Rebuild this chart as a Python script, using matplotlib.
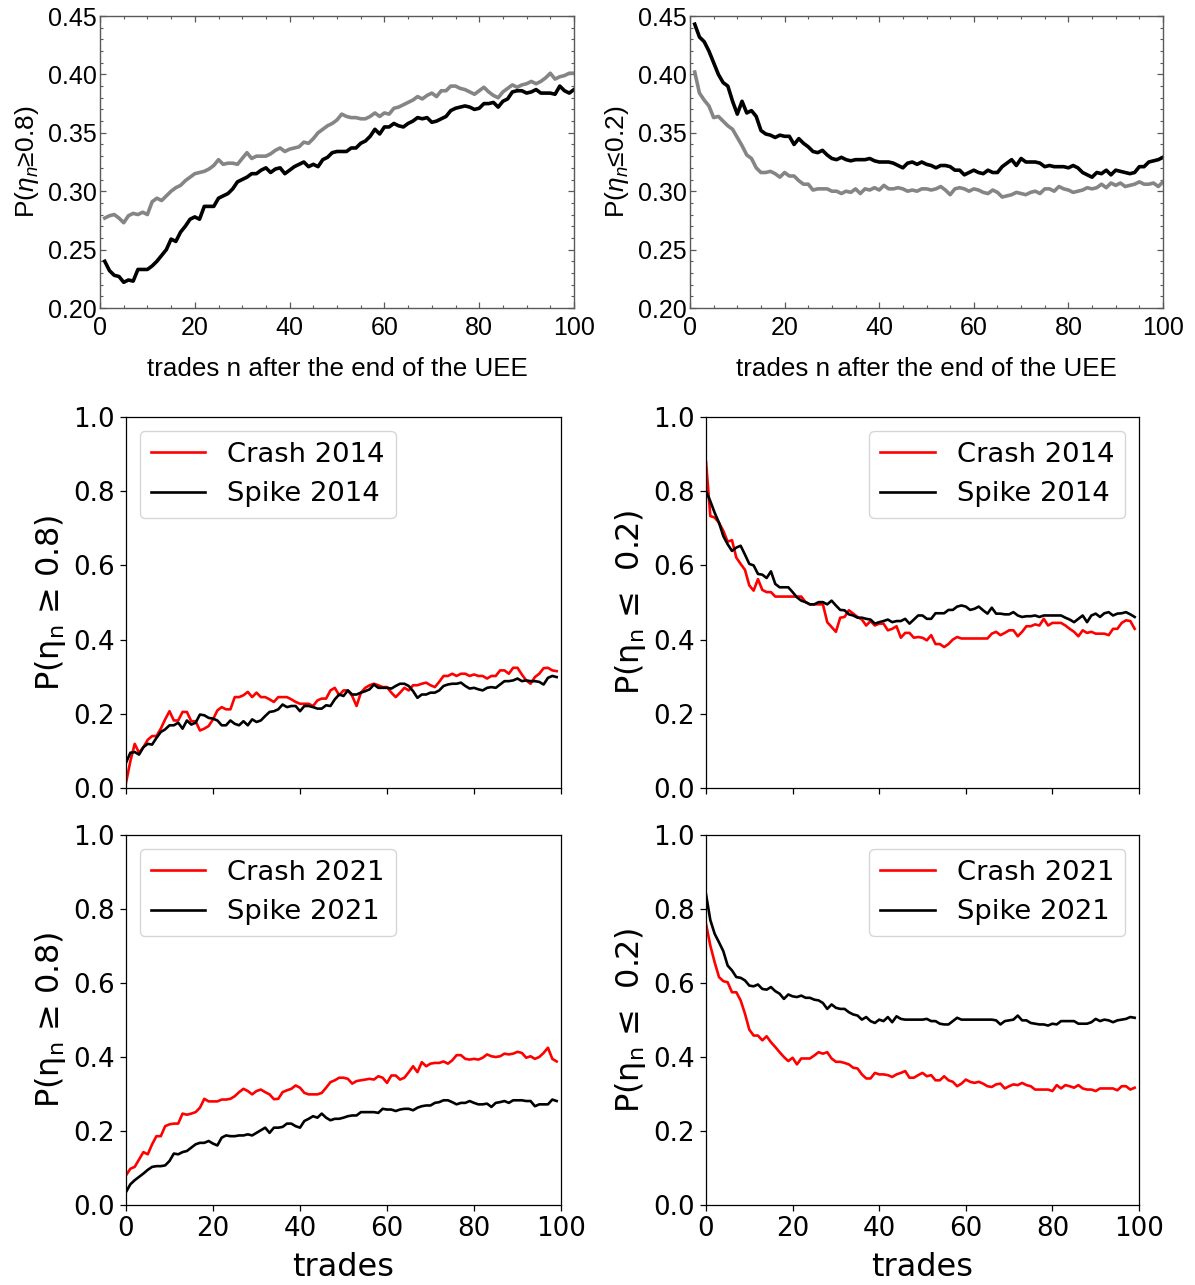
import numpy as np
import matplotlib
matplotlib.use("Agg")
import matplotlib.pyplot as plt
from matplotlib.ticker import MultipleLocator, FormatStrFormatter

plt.rcParams['mathtext.fontset'] = 'custom'
plt.rcParams['mathtext.it'] = 'Liberation Sans:italic'
plt.rcParams['mathtext.rm'] = 'Liberation Sans'

# ---------------- data ----------------
x_top = np.arange(1, 101)
x_bot = np.arange(0, 100)

tl_gray = [0.277,0.279,0.280,0.277,0.273,0.279,0.281,0.280,0.282,0.280,
0.291,0.294,0.292,0.296,0.300,0.303,0.305,0.309,0.312,0.315,
0.316,0.317,0.319,0.322,0.327,0.323,0.324,0.324,0.323,0.328,
0.333,0.328,0.330,0.330,0.330,0.332,0.335,0.337,0.334,0.336,
0.337,0.338,0.342,0.341,0.345,0.350,0.353,0.356,0.358,0.361,
0.366,0.364,0.363,0.363,0.362,0.362,0.364,0.367,0.364,0.367,
0.366,0.371,0.372,0.374,0.376,0.378,0.381,0.379,0.382,0.384,
0.381,0.386,0.386,0.390,0.390,0.388,0.387,0.385,0.383,0.386,
0.389,0.385,0.382,0.380,0.385,0.388,0.391,0.389,0.391,0.392,
0.394,0.392,0.394,0.397,0.401,0.396,0.398,0.399,0.401,0.401]

tl_black = [0.240,0.232,0.228,0.227,0.222,0.224,0.223,0.233,0.233,0.233,
0.236,0.240,0.245,0.250,0.259,0.257,0.265,0.270,0.276,0.278,
0.276,0.287,0.287,0.287,0.294,0.296,0.298,0.302,0.308,0.310,
0.312,0.315,0.315,0.318,0.320,0.316,0.319,0.320,0.315,0.318,
0.321,0.323,0.325,0.321,0.323,0.321,0.327,0.329,0.333,0.334,
0.334,0.334,0.337,0.337,0.341,0.343,0.347,0.353,0.349,0.355,
0.355,0.358,0.356,0.355,0.358,0.360,0.363,0.362,0.363,0.359,
0.360,0.362,0.364,0.369,0.371,0.372,0.373,0.372,0.370,0.371,
0.375,0.375,0.376,0.372,0.377,0.379,0.385,0.386,0.386,0.384,
0.385,0.387,0.384,0.384,0.384,0.383,0.390,0.386,0.384,0.387]

tr_black = [0.443,0.432,0.428,0.420,0.410,0.400,0.393,0.390,0.377,0.366,
0.377,0.367,0.369,0.364,0.352,0.349,0.348,0.346,0.348,0.347,
0.347,0.340,0.345,0.341,0.338,0.334,0.333,0.335,0.331,0.328,
0.327,0.329,0.327,0.326,0.327,0.327,0.327,0.328,0.326,0.325,
0.325,0.325,0.324,0.322,0.320,0.324,0.325,0.323,0.325,0.323,
0.322,0.320,0.322,0.322,0.321,0.318,0.318,0.314,0.316,0.318,
0.316,0.315,0.318,0.316,0.316,0.321,0.324,0.327,0.322,0.328,
0.325,0.325,0.325,0.324,0.321,0.322,0.321,0.321,0.321,0.320,
0.322,0.320,0.316,0.314,0.312,0.316,0.315,0.318,0.314,0.318,
0.317,0.316,0.315,0.316,0.321,0.321,0.325,0.326,0.327,0.329]

tr_gray = [0.402,0.384,0.378,0.373,0.363,0.364,0.360,0.356,0.353,0.346,
0.339,0.331,0.328,0.320,0.316,0.316,0.317,0.315,0.312,0.316,
0.313,0.313,0.309,0.306,0.306,0.301,0.302,0.302,0.302,0.300,
0.300,0.298,0.300,0.299,0.302,0.298,0.302,0.301,0.303,0.301,
0.305,0.302,0.302,0.303,0.302,0.300,0.301,0.300,0.302,0.302,
0.301,0.302,0.304,0.301,0.297,0.302,0.303,0.302,0.300,0.302,
0.301,0.299,0.298,0.301,0.299,0.295,0.296,0.297,0.299,0.298,
0.297,0.299,0.300,0.298,0.302,0.302,0.300,0.304,0.302,0.301,
0.299,0.300,0.301,0.303,0.302,0.303,0.306,0.303,0.307,0.305,
0.307,0.304,0.305,0.306,0.308,0.306,0.306,0.307,0.304,0.308]

crash14_hi = [0.014,0.072,0.119,0.095,0.110,0.130,0.140,0.140,0.160,0.185,
0.207,0.182,0.182,0.205,0.205,0.180,0.180,0.155,0.160,0.167,
0.185,0.209,0.218,0.212,0.212,0.245,0.245,0.250,0.259,0.245,
0.257,0.245,0.245,0.239,0.232,0.245,0.245,0.245,0.239,0.232,
0.227,0.227,0.227,0.221,0.236,0.241,0.241,0.263,0.270,0.250,
0.263,0.263,0.248,0.221,0.257,0.270,0.277,0.281,0.277,0.272,
0.272,0.257,0.245,0.257,0.270,0.263,0.277,0.277,0.281,0.284,
0.277,0.272,0.286,0.302,0.302,0.308,0.302,0.308,0.308,0.302,
0.306,0.302,0.302,0.295,0.302,0.302,0.317,0.317,0.308,0.324,
0.324,0.306,0.290,0.281,0.299,0.308,0.323,0.324,0.317,0.315]

spike14_hi = [0.068,0.095,0.097,0.090,0.110,0.119,0.117,0.135,0.151,0.158,
0.169,0.169,0.176,0.160,0.182,0.171,0.176,0.198,0.196,0.189,
0.187,0.182,0.169,0.169,0.182,0.173,0.169,0.180,0.169,0.185,
0.178,0.182,0.194,0.205,0.207,0.212,0.225,0.218,0.221,0.221,
0.207,0.221,0.221,0.218,0.214,0.214,0.223,0.221,0.239,0.252,
0.248,0.263,0.252,0.252,0.257,0.261,0.266,0.279,0.270,0.270,
0.270,0.268,0.275,0.281,0.281,0.275,0.261,0.243,0.252,0.252,
0.257,0.257,0.263,0.275,0.279,0.281,0.281,0.284,0.275,0.268,
0.270,0.266,0.263,0.270,0.272,0.270,0.279,0.288,0.288,0.290,
0.295,0.288,0.290,0.288,0.288,0.286,0.279,0.297,0.302,0.299]

crash14_lo = [0.880,0.733,0.729,0.715,0.693,0.664,0.668,0.621,0.604,0.588,
0.546,0.532,0.563,0.534,0.528,0.528,0.516,0.516,0.516,0.516,
0.516,0.516,0.516,0.501,0.495,0.495,0.495,0.495,0.447,0.434,
0.421,0.459,0.461,0.479,0.470,0.461,0.454,0.438,0.450,0.438,
0.443,0.443,0.425,0.429,0.436,0.405,0.418,0.418,0.405,0.407,
0.405,0.398,0.412,0.388,0.388,0.380,0.388,0.400,0.407,0.403,
0.403,0.403,0.403,0.403,0.403,0.403,0.416,0.421,0.412,0.418,
0.425,0.425,0.409,0.421,0.436,0.436,0.441,0.438,0.456,0.438,
0.445,0.445,0.445,0.438,0.429,0.421,0.409,0.425,0.418,0.421,
0.416,0.416,0.416,0.412,0.429,0.429,0.445,0.452,0.450,0.429]

spike14_lo = [0.800,0.773,0.742,0.715,0.679,0.657,0.639,0.648,0.653,0.629,
0.604,0.600,0.577,0.575,0.566,0.584,0.550,0.541,0.541,0.541,
0.528,0.514,0.505,0.501,0.495,0.495,0.501,0.501,0.495,0.505,
0.492,0.480,0.479,0.468,0.465,0.459,0.459,0.456,0.454,0.443,
0.447,0.450,0.454,0.447,0.450,0.450,0.456,0.443,0.454,0.465,
0.465,0.456,0.456,0.471,0.471,0.471,0.480,0.480,0.489,0.492,
0.489,0.480,0.483,0.489,0.479,0.470,0.486,0.470,0.470,0.468,
0.468,0.474,0.465,0.461,0.463,0.463,0.465,0.461,0.465,0.465,
0.465,0.465,0.465,0.459,0.454,0.447,0.456,0.465,0.447,0.465,
0.470,0.461,0.471,0.474,0.465,0.470,0.471,0.474,0.468,0.461]

crash21_hi = [0.080,0.098,0.103,0.123,0.143,0.137,0.164,0.186,0.186,0.213,
0.218,0.220,0.220,0.247,0.244,0.247,0.251,0.263,0.287,0.280,
0.280,0.280,0.285,0.285,0.287,0.294,0.305,0.314,0.308,0.299,
0.308,0.312,0.305,0.299,0.286,0.287,0.305,0.310,0.314,0.323,
0.317,0.303,0.299,0.299,0.299,0.303,0.317,0.332,0.337,0.344,
0.344,0.341,0.328,0.335,0.337,0.339,0.341,0.339,0.348,0.344,
0.330,0.350,0.350,0.339,0.344,0.359,0.375,0.359,0.386,0.375,
0.382,0.384,0.384,0.388,0.382,0.391,0.405,0.405,0.395,0.393,
0.395,0.393,0.398,0.407,0.402,0.400,0.402,0.409,0.407,0.409,
0.414,0.411,0.398,0.402,0.395,0.400,0.411,0.425,0.395,0.388]

spike21_hi = [0.035,0.056,0.067,0.076,0.085,0.095,0.103,0.105,0.105,0.107,
0.119,0.139,0.137,0.143,0.146,0.155,0.164,0.168,0.168,0.173,
0.166,0.161,0.182,0.188,0.186,0.186,0.188,0.188,0.191,0.188,
0.195,0.202,0.209,0.195,0.209,0.209,0.211,0.220,0.220,0.213,
0.209,0.227,0.233,0.240,0.236,0.247,0.236,0.229,0.233,0.233,
0.236,0.240,0.242,0.242,0.251,0.251,0.251,0.251,0.249,0.260,
0.258,0.258,0.254,0.258,0.260,0.260,0.256,0.263,0.267,0.269,
0.269,0.276,0.278,0.283,0.283,0.278,0.272,0.276,0.276,0.281,
0.276,0.272,0.272,0.274,0.265,0.276,0.278,0.281,0.276,0.283,
0.283,0.283,0.281,0.281,0.267,0.272,0.272,0.272,0.285,0.281]

crash21_lo = [0.760,0.701,0.656,0.616,0.605,0.602,0.575,0.575,0.553,0.517,
0.474,0.458,0.458,0.445,0.456,0.440,0.427,0.413,0.400,0.389,
0.398,0.380,0.396,0.396,0.396,0.404,0.413,0.409,0.413,0.396,
0.387,0.387,0.384,0.380,0.371,0.369,0.353,0.342,0.342,0.357,
0.353,0.353,0.351,0.346,0.353,0.357,0.362,0.344,0.344,0.351,
0.357,0.348,0.351,0.337,0.337,0.348,0.337,0.333,0.321,0.328,
0.339,0.333,0.330,0.333,0.328,0.321,0.319,0.326,0.328,0.315,
0.321,0.326,0.324,0.330,0.324,0.321,0.312,0.312,0.312,0.312,
0.308,0.324,0.315,0.324,0.321,0.317,0.324,0.315,0.312,0.312,
0.308,0.315,0.315,0.315,0.315,0.310,0.321,0.321,0.312,0.317]

spike21_lo = [0.840,0.770,0.733,0.710,0.686,0.647,0.634,0.616,0.614,0.607,
0.593,0.591,0.596,0.584,0.582,0.589,0.578,0.571,0.557,0.569,
0.564,0.562,0.566,0.560,0.560,0.555,0.553,0.546,0.530,0.542,
0.533,0.530,0.530,0.521,0.515,0.512,0.501,0.508,0.497,0.492,
0.501,0.497,0.508,0.494,0.510,0.503,0.501,0.501,0.501,0.501,
0.501,0.503,0.497,0.497,0.490,0.488,0.488,0.497,0.506,0.501,
0.501,0.501,0.501,0.501,0.501,0.501,0.501,0.499,0.488,0.497,
0.499,0.501,0.512,0.499,0.499,0.492,0.490,0.488,0.488,0.485,
0.490,0.488,0.497,0.497,0.497,0.497,0.490,0.490,0.490,0.494,
0.503,0.497,0.501,0.499,0.494,0.499,0.501,0.503,0.508,0.506]

top_xlabel = "trades n after the end of the UEE"
top_ylabels = ["P($\\eta_n$≥0.8)", "P($\\eta_n$≤0.2)"]
bot_ylabels = ["P(η$_\\mathregular{n}$ ≥ 0.8)", "P(η$_\\mathregular{n}$ ≤  0.2)"]

# ---------------- figure ----------------
W, H = 1195, 1285
fig = plt.figure(figsize=(W / 100, H / 100), dpi=100)

def rect(l, r, t, b):
    return [l / W, 1 - b / H, (r - l) / W, (b - t) / H]

ARIAL = 'Liberation Sans'
SPINE = '#5a5a5a'

def style_top(ax, ylabel):
    ax.set_xlim(0, 100)
    ax.set_ylim(0.20, 0.45)
    ax.xaxis.set_major_locator(MultipleLocator(20))
    ax.xaxis.set_minor_locator(MultipleLocator(5))
    ax.yaxis.set_major_locator(MultipleLocator(0.05))
    ax.yaxis.set_minor_locator(MultipleLocator(0.01))
    ax.yaxis.set_major_formatter(FormatStrFormatter('%.2f'))
    for s in ax.spines.values():
        s.set_color(SPINE)
        s.set_linewidth(1.0)
    ax.tick_params(which='both', direction='in', top=True, right=True,
                   color=SPINE, labelcolor='black')
    ax.tick_params(which='major', length=4, width=0.9, labelsize=18)
    ax.tick_params(axis='x', which='major', pad=6)
    ax.tick_params(axis='y', which='major', pad=2.5)
    ax.tick_params(which='minor', length=2.2, width=0.8)
    for lab in ax.get_xticklabels() + ax.get_yticklabels():
        lab.set_family(ARIAL)
    ax.set_xlabel(top_xlabel, fontsize=18.7, family=ARIAL, labelpad=12)
    ax.set_ylabel(ylabel, fontsize=19, family=ARIAL, labelpad=5)

ax1 = fig.add_axes(rect(100, 574, 16, 308))
ax1.plot(x_top, tl_gray, color='#858585', lw=2.6)
ax1.plot(x_top, tl_black, color='black', lw=2.6)
style_top(ax1, top_ylabels[0])

ax2 = fig.add_axes(rect(690, 1163, 16, 308))
ax2.plot(x_top, tr_gray, color='#858585', lw=2.6)
ax2.plot(x_top, tr_black, color='black', lw=2.6)
style_top(ax2, top_ylabels[1])

def style_bot(ax, ylabel, show_x):
    ax.set_xlim(0, 100)
    ax.set_ylim(0, 1)
    ax.set_xticks([0, 20, 40, 60, 80, 100])
    ax.set_yticks([0.0, 0.2, 0.4, 0.6, 0.8, 1.0])
    ax.yaxis.set_major_formatter(FormatStrFormatter('%.1f'))
    ax.tick_params(labelsize=18.8, length=4.5, width=0.9)
    for s in ax.spines.values():
        s.set_linewidth(0.9)
    if not show_x:
        ax.set_xticklabels([])
    else:
        ax.set_xlabel('trades', fontsize=23, labelpad=7)
    ax.set_ylabel(ylabel, fontsize=23, math_fontfamily='dejavusans')

panels = [
    (rect(126, 561, 417, 788), crash14_hi, spike14_hi, 'Crash 2014', 'Spike 2014', bot_ylabels[0], 'upper left', False),
    (rect(706, 1139, 417, 788), crash14_lo, spike14_lo, 'Crash 2014', 'Spike 2014', bot_ylabels[1], 'upper right', False),
    (rect(126, 561, 835, 1205), crash21_hi, spike21_hi, 'Crash 2021', 'Spike 2021', bot_ylabels[0], 'upper left', True),
    (rect(706, 1139, 835, 1205), crash21_lo, spike21_lo, 'Crash 2021', 'Spike 2021', bot_ylabels[1], 'upper right', True),
]
for r, cr, sp, lc, ls, yl, loc, showx in panels:
    ax = fig.add_axes(r)
    ax.plot(x_bot, cr, color='red', lw=1.9, label=lc)
    ax.plot(x_bot, sp, color='black', lw=1.9, label=ls)
    style_bot(ax, yl, showx)
    ax.legend(loc=loc, fontsize=19.7)

fig.savefig('out.png', dpi=100)
